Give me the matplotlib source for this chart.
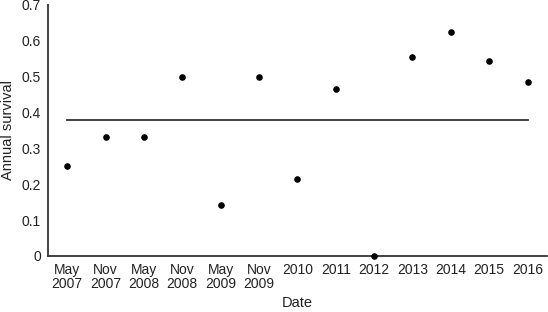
import matplotlib.pyplot as plt
from matplotlib.ticker import FuncFormatter

plt.rcParams['font.family'] = ['Liberation Sans', 'DejaVu Sans']

# datos
fechas = ["May\n2007", "Nov\n2007", "May\n2008", "Nov\n2008", "May\n2009", "Nov\n2009",
          "2010", "2011", "2012", "2013", "2014", "2015", "2016"]
supervivencia = [0.25, 0.333, 0.333, 0.5, 0.143, 0.5, 0.214, 0.467, 0.0, 0.556, 0.625, 0.545, 0.485]
media = 0.38

fig = plt.figure(figsize=(5.48, 3.12), dpi=100)
ax = fig.add_axes([0.0876, 0.1795, 0.91, 0.8045])

x = list(range(len(fechas)))
ax.scatter(x, supervivencia, s=14, color="black", zorder=3, clip_on=False)
ax.plot([x[0], x[-1]], [media, media], color="#333333", lw=1.3)

ax.set_xlim(-0.5, len(fechas) - 0.5)
ax.set_ylim(0, 0.7)
ax.set_xticks(x)
ax.set_xticklabels(fechas, linespacing=1.0)
ax.set_yticks([0, 0.1, 0.2, 0.3, 0.4, 0.5, 0.6, 0.7])
ax.yaxis.set_major_formatter(FuncFormatter(lambda v, p: "0" if v == 0 else "%.1f" % v))
ax.tick_params(length=0, labelsize=10, colors="#222222", pad=5)
ax.tick_params(axis="y", pad=5)

for s in ["top", "right"]:
    ax.spines[s].set_visible(False)
for s in ["left", "bottom"]:
    ax.spines[s].set_color("#333333")
    ax.spines[s].set_linewidth(1.3)

ax.set_xlabel("Date", fontsize=10.5, color="#222222", labelpad=4)
ax.set_ylabel("Annual survival", fontsize=10.5, color="#222222", labelpad=5)

plt.savefig("out.png", dpi=100)
